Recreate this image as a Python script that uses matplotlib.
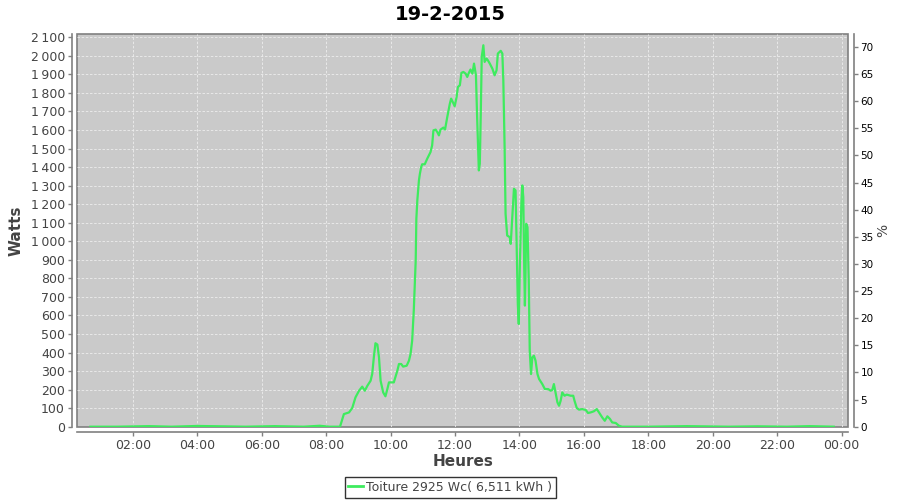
"""
Production curve for 19-2-2015, redrawn from the JFreeChart export.
"""

import matplotlib
matplotlib.use('Agg')
import matplotlib.pyplot as plt
import matplotlib.ticker as mticker
from matplotlib.lines import Line2D

# Time of day in hours, power in watts
hours = [0.68, 1.5, 2.5, 3.2, 4.0, 5.5, 6.4, 7.3, 7.8, 8.1, 8.43,
         8.55, 8.71, 8.81, 8.91, 9.02, 9.12, 9.20, 9.28, 9.38, 9.43,
         9.48, 9.53, 9.59, 9.64, 9.69, 9.77, 9.84, 9.90, 9.95, 10.10,
         10.21, 10.26, 10.33, 10.39, 10.50, 10.57, 10.62, 10.67, 10.72, 10.78,
         10.80, 10.83, 10.88, 10.91, 10.95, 10.98, 11.06, 11.14, 11.19, 11.24,
         11.29, 11.33, 11.40, 11.45, 11.50, 11.55, 11.64, 11.69, 11.76, 11.84,
         11.88, 11.93, 11.99, 12.05, 12.09, 12.15, 12.20, 12.26, 12.33, 12.38,
         12.43, 12.48, 12.54, 12.59, 12.65, 12.69, 12.74, 12.77, 12.80, 12.83,
         12.88, 12.92, 12.98, 13.02, 13.08, 13.16, 13.23, 13.29, 13.33, 13.42,
         13.47, 13.50, 13.54, 13.57, 13.62, 13.70, 13.73, 13.78, 13.83, 13.88,
         13.91, 13.95, 13.98, 14.01, 14.06, 14.09, 14.12, 14.15, 14.17, 14.19,
         14.21, 14.25, 14.29, 14.32, 14.36, 14.40, 14.45, 14.50, 14.56, 14.61,
         14.71, 14.79, 14.89, 14.97, 15.02, 15.07, 15.12, 15.18, 15.23, 15.28,
         15.33, 15.40, 15.47, 15.59, 15.67, 15.71, 15.78, 15.85, 15.95, 16.06,
         16.13, 16.21, 16.31, 16.40, 16.47, 16.57, 16.65, 16.73, 16.81, 16.88,
         16.99, 17.09, 17.19, 18.0, 19.2, 20.5, 21.4, 22.3, 23.0, 23.76]
watts = [0, 0, 3, 0, 4, 0, 3, 0, 5, 0, 0,
         68, 77, 101, 158, 194, 216, 194, 221, 248, 285,
         374, 450, 443, 374, 248, 185, 164, 203, 239, 239,
         302, 338, 338, 324, 329, 356, 392, 464, 626, 896,
         1121, 1220, 1328, 1364, 1400, 1415, 1415, 1446, 1463, 1481,
         1517, 1598, 1602, 1589, 1571, 1602, 1613, 1602, 1670, 1742,
         1769, 1751, 1728, 1778, 1832, 1841, 1908, 1913, 1904, 1886,
         1908, 1926, 1904, 1958, 1895, 1652, 1382, 1418, 1688, 1994,
         2057, 1967, 1985, 1976, 1958, 1931, 1895, 1922, 2012, 2027,
         2012, 1868, 1508, 1148, 1031, 1022, 986, 1130, 1283, 1274,
         1022, 662, 554, 842, 1202, 1301, 1238, 842, 653, 842,
         1094, 1076, 788, 410, 284, 374, 383, 356, 284, 257,
         230, 203, 203, 194, 198, 230, 185, 131, 113, 140,
         185, 167, 173, 167, 167, 140, 101, 92, 95, 90,
         74, 77, 83, 95, 77, 50, 32, 56, 42, 23,
         20, 5, 0, 0, 3, 0, 2, 0, 3, 0]

peak_wc = 2925
tick_hours = [2, 4, 6, 8, 10, 12, 14, 16, 18, 20, 22, 24]
tick_labels = ['02:00', '04:00', '06:00', '08:00', '10:00', '12:00',
               '14:00', '16:00', '18:00', '20:00', '22:00', '00:00']

line_color = '#3EEB5E'
text_gray = '#444444'
axis_gray = '#808080'

fig = plt.figure(figsize=(9, 5), dpi=100)
ax = fig.add_axes([0.0861, 0.1466, 0.8561, 0.7848])
ax.set_facecolor('#CACACA')
ax.patch.set_edgecolor(axis_gray)
ax.patch.set_linewidth(1.2)

ax.plot(hours, watts, color=line_color, linewidth=1.6, zorder=3)

y_top = 2116
ax.set_xlim(0.28, 24.2)
ax.set_ylim(0, y_top)
ax.set_yticks(range(0, 2101, 100))
ax.yaxis.set_major_formatter(mticker.FuncFormatter(
    lambda v, p: f'{int(v):,}'.replace(',', '\u2009')))
ax.set_xticks(tick_hours)
ax.set_xticklabels(tick_labels)

ax.grid(True, color='#EDEDED', linestyle=(0, (3, 2)), linewidth=0.6)
ax.set_axisbelow(True)

for side in ['top', 'right']:
    ax.spines[side].set_visible(False)
ax.spines['left'].set_position(('outward', 4))
ax.spines['bottom'].set_position(('outward', 4))
for side in ['left', 'bottom']:
    ax.spines[side].set_color(axis_gray)
    ax.spines[side].set_linewidth(1.2)
ax.tick_params(axis='both', colors=axis_gray, labelcolor=text_gray,
               labelsize=9, length=3, width=1, pad=2)

ax.set_ylabel('Watts', fontsize=11, fontweight='bold', color=text_gray, labelpad=5)
ax.set_xlabel('Heures', fontsize=11, fontweight='bold', color=text_gray, labelpad=1)

# right axis: percentage of the installed peak power
ax2 = ax.twinx()
ax2.set_ylim(0, y_top / peak_wc * 100)
ax2.set_yticks(range(0, 71, 5))
for side in ['top', 'left', 'bottom']:
    ax2.spines[side].set_visible(False)
ax2.spines['right'].set_position(('outward', 4))
ax2.spines['right'].set_color(axis_gray)
ax2.spines['right'].set_linewidth(1.2)
ax2.tick_params(axis='y', colors=axis_gray, labelcolor='black',
                labelsize=7.5, length=3, width=1, pad=2)
ax2.set_ylabel('%', fontsize=10, color=text_gray, labelpad=2)

fig.suptitle('19-2-2015', fontsize=14, fontweight='bold', y=0.99)

handle = Line2D([], [], color=line_color, linewidth=2)
leg = fig.legend([handle], ['Toiture 2925 Wc( 6,511 kWh )'],
                 loc='lower center', bbox_to_anchor=(0.5, 0.0),
                 fancybox=False, frameon=True, fontsize=9,
                 handlelength=1.2, handletextpad=0.2, borderpad=0.3,
                 borderaxespad=0.2)
leg.get_frame().set_edgecolor('black')
leg.get_frame().set_linewidth(1)
for t in leg.get_texts():
    t.set_color(text_gray)

plt.savefig('out.png', dpi=100)
print("Saved: out.png")
